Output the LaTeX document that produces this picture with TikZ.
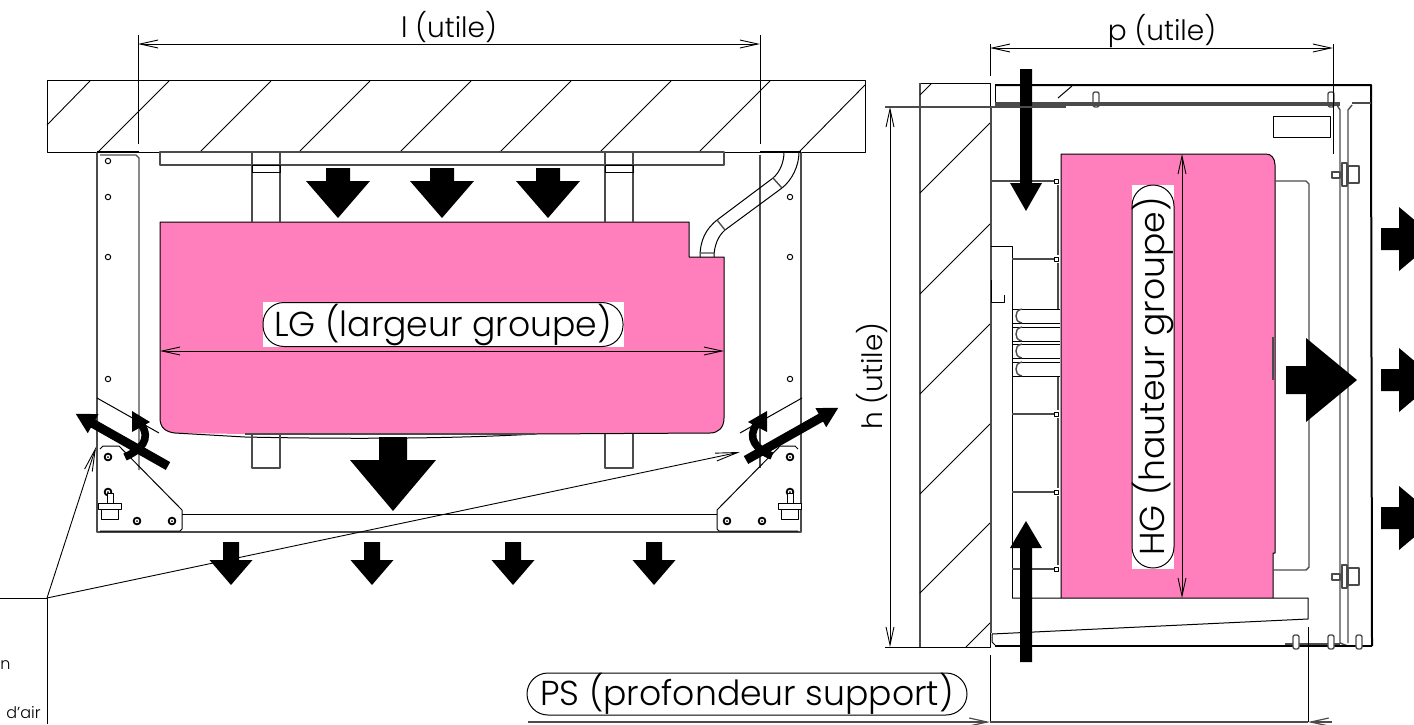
\documentclass[tikz,border=0pt]{standalone}
\usepackage{fontspec}
\setmainfont{Poppins}[UprightFont=* Light]
\usetikzlibrary{arrows.meta,positioning}

\definecolor{groupepink}{RGB}{255,127,189}
\definecolor{partgray}{RGB}{75,75,75}

% air flow block arrow: x, y, angle, half stem, stem, half head, head
\newcommand{\airflow}[7]{
  \fill[black,shift={(#1,#2)},rotate=#3]
    (0,-#4) -- (#5,-#4) -- (#5,-#6) -- (#5+#7,0) -- (#5,#6) -- (#5,#4) -- (0,#4) -- cycle;
}

\begin{document}
\begin{tikzpicture}[x=0.5pt,y=-0.5pt,line join=round,
    part/.style={draw=black,line width=0.5pt},
    heavy/.style={draw=partgray,line width=1.1pt},
    soft/.style={draw=partgray,line width=0.7pt},
    cover/.style={draw=black,line width=1pt},
    hatchline/.style={draw=black,line width=0.45pt},
    dimline/.style={draw=black,line width=0.45pt,{Straight Barb[length=9pt,width=4pt]}-{Straight Barb[length=9pt,width=4pt]}},
    leader/.style={draw=black,line width=0.45pt,-{Straight Barb[length=11pt,width=4pt]}},
    extline/.style={draw=black,line width=0.45pt},
    dimtext/.style={inner sep=0pt,font=\fontsize{14}{16}\selectfont},
    pilltext/.style={draw=black,line width=0.5pt,fill=white,rounded corners=10.5pt,inner sep=0pt,font=\fontsize{17.3}{20}\selectfont},
    backing/.style={fill=white,inner sep=0pt},
    notetext/.style={inner sep=0pt,font=\fontsize{8}{10}\selectfont}]
  \useasboundingbox (0,0) rectangle (1414,724);

  % ---- front view ----
  \fill[groupepink] (160,222) -- (689,222) -- (689,257) -- (724,257) -- (724,418)
    .. controls (724,428) and (718,433) .. (710,433) -- (535,434) -- (245,434) -- (175,433)
    .. controls (166,432) and (160,428) .. (160,418) -- cycle;
  \draw[part] (160,222) -- (689,222) -- (689,257) -- (724,257) -- (724,418)
    .. controls (724,428) and (718,433) .. (710,433) -- (535,434)
    .. controls (450,439) and (340,439) .. (245,437) -- (175,433)
    .. controls (166,432) and (160,428) .. (160,418) -- cycle;
  \draw[soft] (245,434) -- (535,434);

  % slab
  \draw[part] (47,80) rectangle (865,152);
  \draw[hatchline] (47,125) -- (90,81);
  \foreach \hx in {98,200,299,400,500,600,699}
    \draw[hatchline] (\hx,152) -- (\hx+71,81);
  \draw[hatchline] (799,152) -- (865,85);

  % rail and hangers
  \draw[heavy] (160,152) rectangle (724,165);
  \foreach \bx in {252,605} {
    \draw[soft] (\bx,152) -- (\bx,222);
    \draw[soft] (\bx+28,152) -- (\bx+28,222);
    \draw[part] (\bx,165) rectangle (\bx+28,172);
    \draw[soft] (\bx,434) -- (\bx,468) -- (\bx+28,468) -- (\bx+28,434);
  }

  % side panels
  \draw[heavy] (97,152) -- (97,532) -- (801,532) -- (801,152);
  \draw[soft] (100,155) -- (136,155) -- (139,158) -- (139,470);
  \draw[soft] (760,155) -- (760,468);
  \draw[cover] (97,152) -- (139,152) (760,152) -- (801,152);
  \draw[part] (97,398) -- (159,433);
  \draw[part] (802,398) -- (740,433);
  \draw[part] (100,449) -- (103,446) -- (119,446) -- (182,510) -- (182,529) -- (180,531) -- (100,531);
  \draw[part] (798,449) -- (795,446) -- (780,446) -- (717,510) -- (717,529) -- (719,531) -- (798,531);
  \draw[part] (182,514) -- (717,514);

  % duct
  \draw[part] (784,152) .. controls (784,162) and (780,172) .. (773,178) -- (717,220)
    .. controls (706,229) and (700,240) .. (700,257);
  \draw[part] (799,152) .. controls (799,166) and (792,180) .. (782,188) -- (725,230)
    .. controls (718,236) and (714,246) .. (714,257);
  \draw[soft] (773,178) -- (782,188) (717,220) -- (725,230) (700,253) -- (714,253);

  % holes, bolts, studs
  \foreach \hx/\hy in {108/161,108/197,108/257,108/379,790/197,790/257,790/379}
    \draw[part] (\hx,\hy) circle (2.7);
  \foreach \bx/\by in {108/457,137/521,172/521,790/457,727/521,762/521,108/492,790/492} {
    \draw[part,line width=0.9pt] (\bx,\by) circle (3.4);
    \fill (\bx,\by) circle (1);
  }
  \foreach \sx in {98,778} {
    \draw[part,fill=white] (\sx+9,493) rectangle (\sx+15,503);
    \draw[part,fill=white] (\sx,503) rectangle (\sx+23,509);
    \draw[part,fill=white] (\sx+3,509) rectangle (\sx+20,519);
  }

  % leaders
  \coordinate (note_corner) at (47,598);
  \coordinate (note_left) at (0,598);
  \coordinate (note_down) at (47,724);
  \coordinate (leader_a) at (96,447);
  \coordinate (leader_b) at (740,452);
  \draw[extline] (note_left) -- (note_corner) -- (note_down);
  \draw[leader] (note_corner) -- (leader_a);
  \draw[leader] (note_corner) -- (leader_b);
  \node[notetext,anchor=base east] (note_one) at (11,669) {n};
  \node[notetext,anchor=base east] (note_two) at (41,718) {d'air};

  % front view air
  \foreach \ax in {338,442,548} {
    \airflow{\ax}{168}{-90}{12}{13}{32}{37}
  }
  \airflow{393}{437}{-90}{14}{23}{43}{51}
  \foreach \ax in {231,372,513,654} {
    \airflow{\ax}{542}{-90}{8}{18}{21.5}{25}
  }
  \airflow{168}{466}{150.5}{4.5}{86}{11}{20}
  \airflow{746}{460}{29.5}{4.5}{86}{11}{20}
  \draw[line width=3.8pt] (125,457) .. controls (140,450) and (152,440) .. (141,424);
  \fill (132,411) -- (150,422) -- (132,432) -- cycle;
  \draw[line width=3.8pt] (772,456) .. controls (757,450) and (746,438) .. (757,424);
  \fill (767,411) -- (748,422) -- (767,432) -- cycle;

  % front view dimensions
  \coordinate (l_a) at (138,44);
  \coordinate (l_b) at (760,44);
  \draw[extline] (138,35) -- (138,144) (760,35) -- (760,144);
  \draw[dimline] (l_a) -- (l_b);
  \node[dimtext] (l_text) at (449,27) {l (utile)};
  \coordinate (lg_a) at (160,351);
  \coordinate (lg_b) at (724,351);
  \draw[dimline] (lg_a) -- (lg_b);
  \node[backing,minimum width=180.5pt,minimum height=22.5pt] (lg_back) at (443,324.5) {};
  \node[pilltext,minimum width=180pt,minimum height=22pt] (lg_text) at (lg_back) {LG (largeur groupe)};

  % ---- side view ----
  \draw[part] (920,83) -- (990,83) -- (990,647) -- (920,647);
  \draw[soft] (920,83) -- (920,647);
  \draw[hatchline] (920,95) -- (931,84);
  \foreach \hy in {193,294,394,494,593}
    \draw[hatchline] (920,\hy) -- (990,\hy-70);
  \draw[hatchline] (966,647) -- (990,623);

  \fill[groupepink] (1061,154) -- (1266,154) .. controls (1271,154) and (1275,158) .. (1275,165)
    -- (1275,553) -- (1273,553) -- (1273,598) -- (1061,598) -- cycle;
  \draw[part] (1061,598) -- (1061,154) -- (1266,154) .. controls (1271,154) and (1275,158) .. (1275,165)
    -- (1275,553) -- (1273,553) -- (1273,598);
  \draw[soft] (1273,337) -- (1273,380);

  % cabinet
  \draw[heavy] (991,107) -- (991,633);
  \draw[cover] (995,85) -- (1371,85) -- (1372,646);
  \draw[part] (995,85) -- (995,103);
  \draw[heavy] (995,103) -- (1340,103) (1352,103) -- (1371,103);
  \draw[soft] (995,105) -- (1340,105);
  \draw[soft] (1337,105) -- (1340,110) -- (1340,643) (1352,105) -- (1348,110) -- (1348,643);
  \draw[soft] (1340,643) -- (1348,646);
  \draw[part] (1273,116) rectangle (1330,137);
  \draw[part] (1058,98) -- (1072,86);
  \foreach \tx in {1096,1331}
    \draw[soft,rounded corners=1pt] (\tx-3,92) rectangle (\tx+3,107);
  \draw[soft] (1275,181) -- (1306,181) -- (1309,184) -- (1309,567) -- (1306,570) -- (1273,570);

  % shelf and base
  \draw[part] (1012,598) -- (1308,598) -- (1308,619) -- (992,634) -- (992,642) -- (995,645);
  \draw[cover] (995,646) -- (1372,646);
  \draw[heavy] (1285,644) -- (1340,644);
  \foreach \tx in {1296,1331,1359}
    \draw[soft,fill=white,rounded corners=1pt] (\tx-3,635) rectangle (\tx+3,649);
  \foreach \fy in {175,577} {
    \draw[soft,fill=white] (1332,\fy-3) rectangle (1340,\fy+3);
    \draw[soft,fill=white] (1342,\fy-12) rectangle (1347,\fy+11);
    \draw[soft,fill=white] (1348,\fy-9) rectangle (1359,\fy+8);
  }

  % left coil side
  \draw[part] (991,246) -- (1012,246) -- (1012,598);
  \draw[part] (991,280) -- (991,302) -- (1004,302) -- (1004,295);
  \draw[heavy] (991,181) -- (1055,181);
  \foreach \sy in {259,414,492,569} {
    \draw[heavy] (1012,\sy) -- (1055,\sy);
  }
  \foreach \sy in {181,259,414,492,569}
    \draw[part,fill=white] (1054,\sy-2) rectangle (1058,\sy+2);
  \foreach \va/\vb in {185/255,263/309,376/410,418/488,496/565}
    \draw[soft] (1058,\va) -- (1058,\vb);
  \foreach \ty in {309,327,344,362} {
    \draw[part] (1012,\ty) -- (1060,\ty) (1012,\ty+14) -- (1060,\ty+14);
    \draw[soft] (1022,\ty) .. controls (1017,\ty+1) and (1016,\ty+4) .. (1016,\ty+7)
      .. controls (1016,\ty+10) and (1017,\ty+13) .. (1022,\ty+14);
  }

  % side view air
  \airflow{1026}{69}{-90}{6}{114}{16}{28}
  \airflow{1026}{662}{90}{6}{114}{16}{27}
  \airflow{1286}{380}{0}{14}{20}{42}{51}
  \foreach \ay in {239,380,518} {
    \airflow{1381}{\ay}{0}{11}{18}{32}{38}
  }

  % side view dimensions
  \coordinate (p_a) at (990,48);
  \coordinate (p_b) at (1333,48);
  \draw[extline] (990,44) -- (990,76) (1333,44) -- (1333,154);
  \draw[dimline] (p_a) -- (p_b);
  \node[dimtext] (p_text) at (1162,31) {p (utile)};
  \coordinate (h_a) at (890,107);
  \coordinate (h_b) at (890,647);
  \draw[soft] (885,107) -- (1066,107);
  \draw[extline] (885,647) -- (990,647);
  \draw[dimline] (h_a) -- (h_b);
  \node[dimtext,rotate=90] (h_text) at (872,376) {h (utile)};
  \coordinate (hg_a) at (1182,154);
  \coordinate (hg_b) at (1182,598);
  \draw[dimline] (hg_a) -- (hg_b);
  \node[backing,minimum width=192pt,minimum height=21pt,rotate=90] (hg_back) at (1153,376.5) {};
  \node[pilltext,minimum width=191.5pt,minimum height=21pt,rotate=90] (hg_text) at (hg_back) {HG (hauteur groupe)};

  \coordinate (ps_a) at (528,722);
  \coordinate (ps_m) at (990,722);
  \coordinate (ps_n) at (1308,722);
  \coordinate (ps_b) at (1332,722);
  \draw[extline] (990,655) -- (ps_m) (1308,627) -- (ps_n);
  \draw[draw=partgray,line width=0.6pt,-{Straight Barb[length=9pt,width=4pt]}] (ps_a) -- (ps_m);
  \draw[draw=partgray,line width=0.6pt] (ps_m) -- (ps_n);
  \draw[draw=partgray,line width=0.6pt,-{Straight Barb[length=9pt,width=4pt]}] (ps_b) -- (ps_n);
  \node[pilltext,minimum width=220pt,minimum height=21pt] (ps_text) at (747,694) {PS (profondeur support)};
\end{tikzpicture}
\end{document}
